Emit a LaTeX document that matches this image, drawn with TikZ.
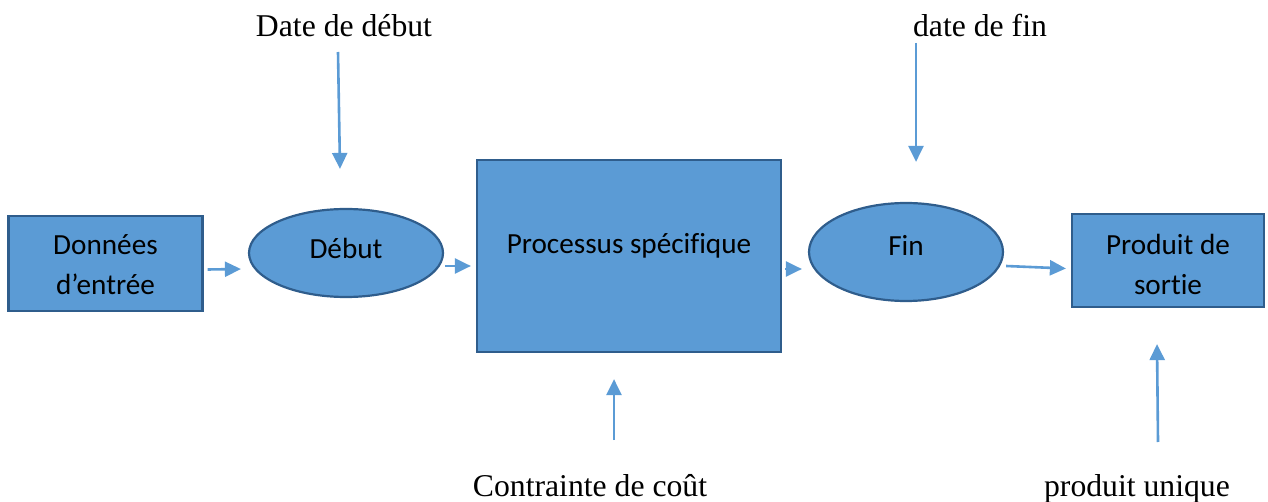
\documentclass[tikz,border=0pt]{standalone}
\usepackage{fontspec}
\setmainfont{Liberation Serif}
\newfontfamily\calib[Ligatures=NoCommon]{Carlito}
\usetikzlibrary{shapes.geometric,arrows.meta}
\definecolor{fillblue}{HTML}{5B9BD5}
\definecolor{edgeblue}{HTML}{2F5D8C}
\definecolor{arrowblue}{HTML}{5B9BD5}
\begin{document}
\begin{tikzpicture}[x=1pt,y=-1pt,
  shapebox/.style={draw=edgeblue,fill=fillblue,line width=2.2pt,rectangle,inner sep=0pt},
  shapeoval/.style={draw=edgeblue,fill=fillblue,line width=2.2pt,ellipse,inner sep=0pt},
  boxtext/.style={font=\calib\fontsize{29.2}{40}\selectfont,align=center,inner sep=0pt},
  outertext/.style={font=\fontsize{31.7}{38}\selectfont,inner sep=0pt,anchor=base},
  flow/.style={draw=arrowblue,line width=2.6pt,-{Triangle[length=16pt,width=15pt]}}]
\useasboundingbox (0,0) rectangle (1268,502);

% main chain of shapes
\node[shapebox,minimum width=194pt,minimum height=95pt] (don) at (105.5,263.5) {};
\node[boxtext] (dont) at (105.5,265) {Données\\d’entrée};
\node[shapeoval,minimum width=194pt,minimum height=88pt] (deb) at (346,253) {};
\node[boxtext] (debt) at (346,248) {Début};
\node[shapebox,minimum width=304pt,minimum height=192pt] (pro) at (629,256) {};
\node[boxtext] (prot) at (629,246) {Processus spécifique};
\node[shapeoval,minimum width=194pt,minimum height=98pt] (fin) at (906,252) {};
\node[boxtext] (fint) at (906,245) {Fin};
\node[shapebox,minimum width=192pt,minimum height=93pt] (out) at (1168,260.5) {};
\node[boxtext] (outt) at (1168,264) {Produit de\\sortie};

% outer labels
\node[outertext] (ldeb) at (344,37) {Date de début};
\node[outertext] (lfin) at (980,37) {date de fin};
\node[outertext] (lcout) at (590,496) {Contrainte de coût};
\node[outertext] (luniq) at (1137,496) {produit unique};

% flow between shapes
\draw[flow] ([shift={(4,6)}]don.east) -- ([shift={(-7,16)}]deb.west);
\draw[flow] ([shift={(1,13)}]deb.east) -- ([shift={(-5,10)}]pro.west);
\draw[flow] ([shift={(3,13)}]pro.east) -- ([shift={(-6,17)}]fin.west);
\draw[flow] ([shift={(2,14)}]fin.east) -- ([shift={(-5,8)}]out.west);

% constraints
\draw[flow] ([shift={(-6,15)}]ldeb.base) -- ([shift={(-6,-39)}]deb.north);
\draw[flow] ([shift={(-64,6)}]lfin.base) -- ([shift={(10,-40)}]fin.north);
\draw[flow] ([shift={(24,-56)}]lcout.base) -- ([shift={(-15,26)}]pro.south);
\draw[flow] ([shift={(21,-54)}]luniq.base) -- ([shift={(-11,36)}]out.south);
\end{tikzpicture}
\end{document}
